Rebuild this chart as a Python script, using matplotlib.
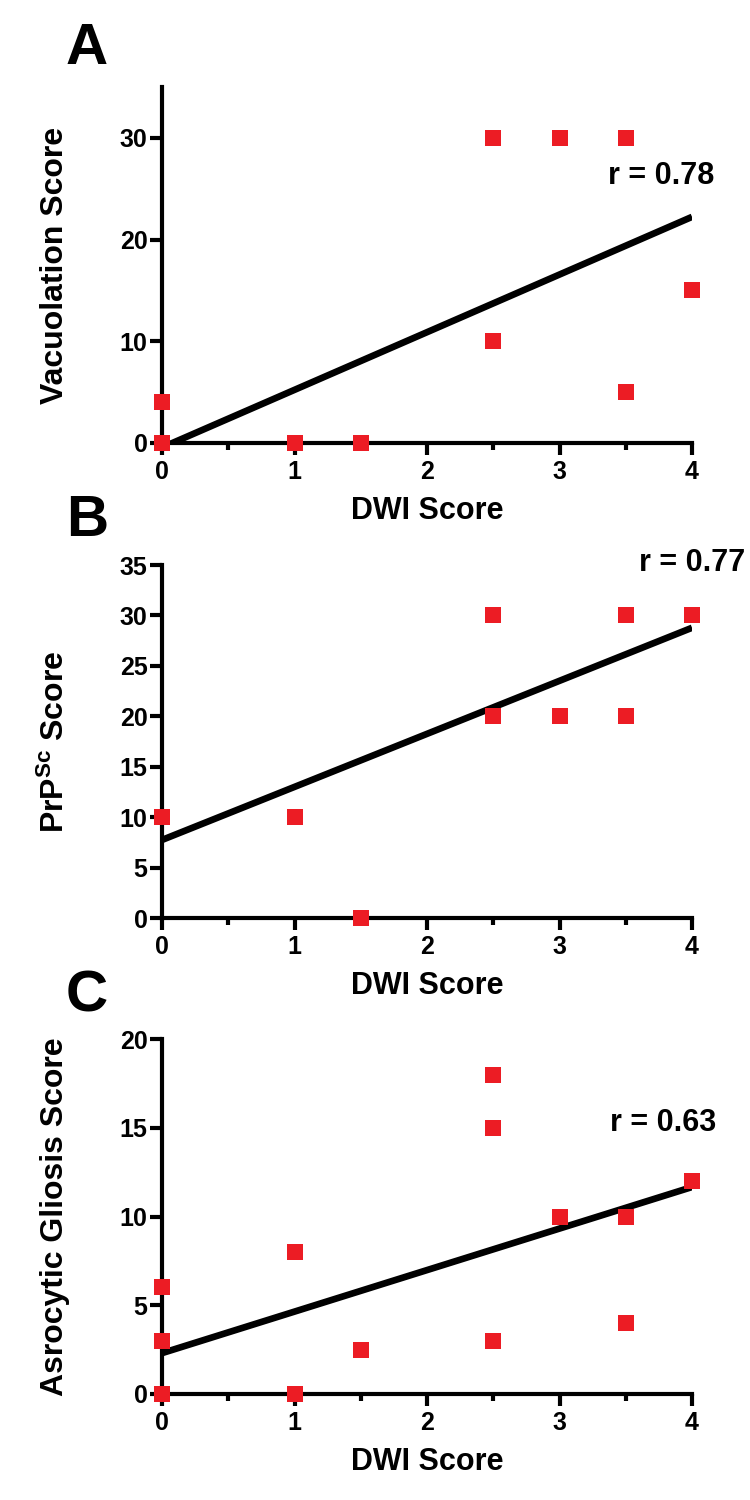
import numpy as np
import matplotlib
matplotlib.use("Agg")
import matplotlib.pyplot as plt
from matplotlib.ticker import MultipleLocator

plt.rcParams['font.family'] = ['Liberation Sans', 'DejaVu Sans']
plt.rcParams['font.weight'] = 'bold'
plt.rcParams['mathtext.default'] = 'regular'

RED = '#ec1c24'

# panel A - vacuolation
dwi_a = [0, 0, 1, 1.5, 2.5, 3, 3.5, 2.5, 3.5, 4]
vac_a = [4, 0, 0, 0, 30, 30, 30, 10, 5, 15]
fit_a = (5.67, -0.45)   # slope, intercept
r_a = 0.78

# panel B - PrPSc
dwi_b = [0, 1, 1.5, 2.5, 3.5, 4, 2.5, 3, 3.5]
prp_b = [10, 10, 0, 30, 30, 30, 20, 20, 20]
fit_b = (5.26, 7.74)
r_b = 0.77

# panel C - astrocytic gliosis
dwi_c = [0, 0, 0, 1, 1, 1.5, 2.5, 2.5, 2.5, 3, 3.5, 3.5, 4]
gli_c = [6, 3, 0, 8, 0, 2.5, 18, 15, 3, 10, 10, 4, 12]
fit_c = (2.34, 2.3)
r_c = 0.63

fig = plt.figure(figsize=(7.5, 15), dpi=100)

panels = [
    ('A', [0.216, 0.7047, 0.7067, 0.2373], dwi_a, vac_a, fit_a, r_a, 'Vacuolation Score',
     35, 10, (4.17, 26.2), 0.967),
    ('B', [0.216, 0.388, 0.7067, 0.2353], dwi_b, prp_b, fit_b, r_b, r'PrP$^{Sc}$ Score',
     35, 5, (4.4, 35.2), 0.653),
    ('C', [0.216, 0.0707, 0.7067, 0.2366], dwi_c, gli_c, fit_c, r_c, 'Asrocytic Gliosis Score',
     20, 5, (4.18, 15.27), 0.336),
]

for letter, rect, xs, ys, fit, r, ylab, ytop, ystep, rpos, ly in panels:
    ax = fig.add_axes(rect)
    xx = np.array([0, 4])
    ax.plot(xx, fit[0] * xx + fit[1], color='black', lw=4.8, solid_capstyle='butt', zorder=2)
    ax.scatter(xs, ys, marker='s', s=120, color=RED, linewidths=0, zorder=3, clip_on=False)
    ax.set_xlim(0, 4)
    ax.set_ylim(0, ytop)
    ax.xaxis.set_major_locator(MultipleLocator(1))
    ax.xaxis.set_minor_locator(MultipleLocator(0.5))
    ax.yaxis.set_major_locator(MultipleLocator(ystep))
    for s in ['top', 'right']:
        ax.spines[s].set_visible(False)
    for s in ['left', 'bottom']:
        ax.spines[s].set_linewidth(3)
    ax.tick_params(axis='both', which='major', direction='out', length=8.5, width=3,
                   labelsize=18, pad=2)
    ax.tick_params(axis='x', which='major', pad=4)
    ax.tick_params(axis='x', which='minor', direction='out', length=5, width=3)
    ax.tick_params(axis='y', which='minor', left=False)
    for t in ax.get_xticklabels() + ax.get_yticklabels():
        t.set_fontweight('bold')
    h_px = rect[3] * 1500
    w_px = rect[2] * 750
    ax.set_xlabel('DWI Score', fontsize=22, fontweight='bold')
    ax.xaxis.set_label_coords(0.5, -68 / h_px)
    ax.xaxis.label.set_va('center')
    ax.set_ylabel(ylab, fontsize=23, fontweight='bold')
    ax.yaxis.set_label_coords(-107 / w_px, 0.5)
    ax.yaxis.label.set_va('center')
    ax.text(rpos[0], rpos[1], 'r = %.2f' % r, ha='right', va='center',
            fontsize=22, fontweight='bold', clip_on=False)
    fig.text(0.116, ly, letter, ha='center', va='center', fontsize=42, fontweight='bold')

fig.savefig('out.png', dpi=100)
